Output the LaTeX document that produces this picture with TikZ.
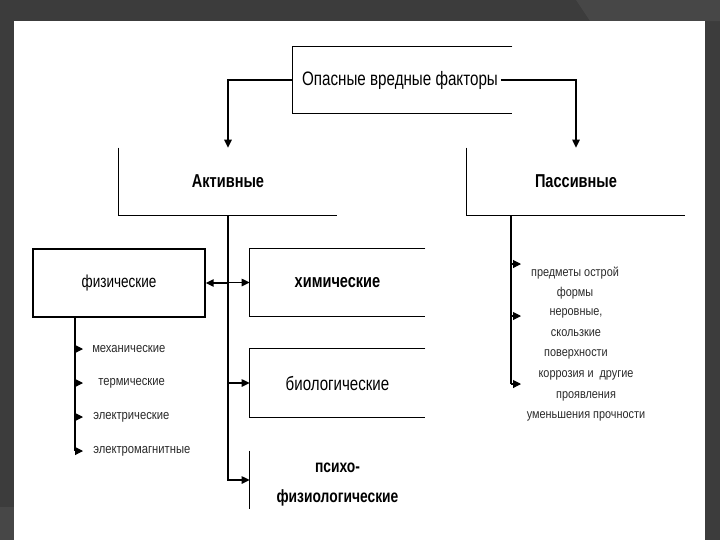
\documentclass[tikz,border=0pt]{standalone}
\usepackage{fontspec}
\setmainfont{Liberation Sans}
\newfontfamily\narrowf[FakeStretch=0.85]{Liberation Sans}
\newfontfamily\condf[FakeStretch=0.78]{Liberation Sans}
\usetikzlibrary{arrows.meta,calc}
\definecolor{bgdark}{HTML}{3C3C3C}
\definecolor{bglight}{HTML}{474747}
\definecolor{smalltxt}{HTML}{2A2A2A}
\tikzset{
  box/.style={minimum width=#1, inner sep=0pt},
  bigtxt/.style={font=\condf\fontsize{14.6}{16}\selectfont},
  bigbold/.style={font=\condf\bfseries\fontsize{14}{16}\selectfont},
  psybold/.style={font=\condf\bfseries\fontsize{13.3}{22.5}\selectfont},
  midtxt/.style={font=\condf\fontsize{14.5}{16}\selectfont},
  phystxt/.style={font=\condf\fontsize{13}{16}\selectfont},
  smalltext/.style={font=\narrowf\fontsize{9.6}{15.2}\selectfont, text=smalltxt, inner sep=0pt, align=center},
  physsmall/.style={font=\narrowf\fontsize{9.9}{15.2}\selectfont, text=smalltxt, inner sep=0pt},
  edge/.style={line width=1pt},
  thinedge/.style={line width=0.8pt},
  arr/.style={line width=1.1pt, -{Triangle[length=6pt,width=5.5pt]}},
  sarr/.style={line width=0.8pt, -{Triangle[length=6pt,width=6pt]}},
}
\begin{document}
\begin{tikzpicture}[x=0.75pt,y=-0.75pt]
\useasboundingbox (0,0) rectangle (720,540);
% background
\fill[bgdark] (0,0) rectangle (720,540);
\fill[bglight] (576,0) -- (720,0) -- (720,21) -- (590,21) -- cycle;
\fill[bglight] (0,507) rectangle (14,540);
\fill[white] (14,21) rectangle (705,540);

% top box
\node[box=164.25pt, minimum height=49.5pt] (topbox) at (402.5,80) {};
\node[bigtxt, inner sep=2pt] (toptxt) at (400,80) {Опасные вредные факторы};
\draw[edge] (topbox.north east) -- (topbox.north west) -- (topbox.south west) -- (topbox.south east);

% active / passive
\node[box=163.5pt, minimum height=50.25pt, bigbold] (act) at (228,181.5) {Активные};
\node[box=163.5pt, minimum height=50.25pt, bigbold] (pas) at (576,181.5) {Пассивные};
\draw[edge] (act.north west) -- (act.south west) -- (act.south east);
\draw[edge] (pas.north west) -- (pas.south west) -- (pas.south east);

\draw[arr] (topbox.west) -| (act.north);
\draw[arr] (toptxt.east) -| (pas.north);

% active subgroups
\node[box=131.25pt, minimum height=50.25pt, bigbold] (chem) at (337.5,282.5) {химические};
\node[box=131.25pt, minimum height=51pt, midtxt] (bio) at (337.5,383) {биологические};
\node[box=131.25pt, minimum height=43.5pt] (psy) at (337.5,480) {};
\node[psybold, align=center, inner sep=0pt] (psytxt) at (337.5,485) {психо-\\физиологические};
\node[box=129pt, minimum height=51pt, phystxt, draw, line width=1pt] (phys) at (119,283) {физические};

\draw[edge] (chem.north east) -- (chem.north west) -- (chem.south west) -- (chem.south east);
\draw[edge] (bio.north east) -- (bio.north west) -- (bio.south west) -- (bio.south east);
\draw[edge] (psy.north west) -- (psy.south west);

\draw[arr] (act.south) |- (psy.west);
\draw[arr] (act.south |- chem.west) -- (chem.west);
\draw[arr] (act.south |- phys.east) -- (phys.east);
\draw[arr] (act.south |- bio.west) -- (bio.west);

% physical sub-items
\coordinate (pt0) at (75,317);
\coordinate (pm1) at (83,349);
\coordinate (pm2) at (83,383);
\coordinate (pm3) at (83,417);
\coordinate (pm4) at (83,451);
\node[physsmall, anchor=west] (mech) at (92,349) {механические};
\node[physsmall, anchor=west] (therm) at (98,383) {термические};
\node[physsmall, anchor=west] (elec) at (93,417) {электрические};
\node[physsmall, anchor=west] (emag) at (93,451) {электромагнитные};
\draw[thinedge] (phys.south -| pt0) -- (pt0 |- pm4);
\foreach \p in {pm1,pm2,pm3,pm4}{
  \draw[sarr] (pt0 |- \p) -- (\p);
}

% passive sub-items
\coordinate (qt0) at (511,215);
\coordinate (qa1) at (521,264);
\coordinate (qa2) at (521,316);
\coordinate (qa3) at (521,384);
\node[smalltext] (sharp) at (575,283) {предметы острой\\формы};
\node[smalltext] (rough) at (576,334) {неровные,\\скользкие\\поверхности};
\node[smalltext] (corr) at (586,396) {коррозия и \ другие\\проявления\\уменьшения прочности};
\draw[thinedge] (pas.south -| qt0) -- (qt0 |- qa3);
\foreach \p in {qa1,qa2,qa3}{
  \draw[sarr] (qt0 |- \p) -- (\p);
}
\end{tikzpicture}
\end{document}
